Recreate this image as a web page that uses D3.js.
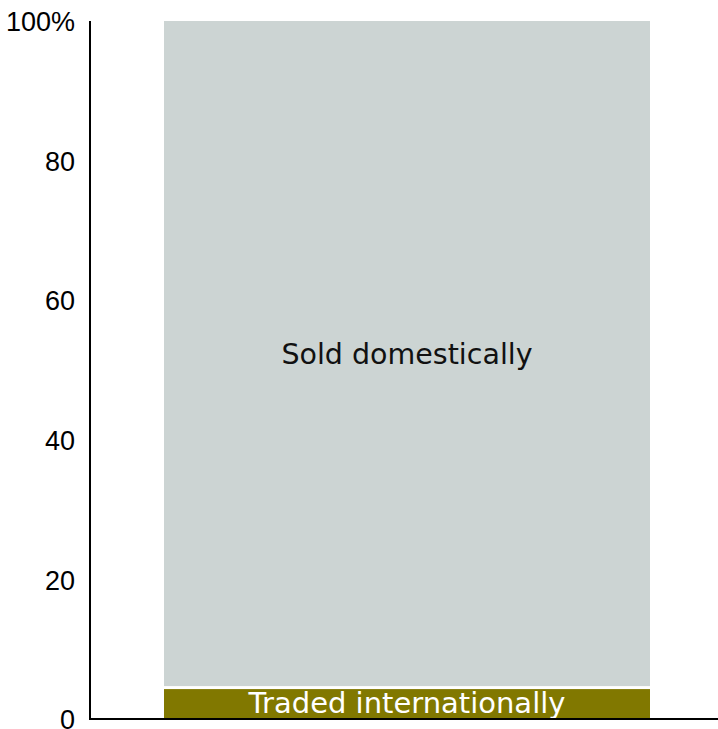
<!DOCTYPE html>
<html><head><meta charset="utf-8">
<script src="https://cdn.jsdelivr.net/npm/d3@7"></script>
<style>body{margin:0;background:#fff}</style>
</head><body><svg id="c" width="718" height="729"></svg>
<script>
const categories = ["Traded internationally", "Sold domestically"];
const values = [4.5, 95.5];
const colors = ["#817800", "#ccd4d3"];
const textColors = ["#ffffff", "#111111"];
const labelSizes = [29, 28.5];
const tickValues = [0, 20, 40, 60, 80, 100];
const tickLabels = ["0", "20", "40", "60", "80", "100%"];

const svg = d3.select("#c");
const x0 = 90, x1 = 718, yTop = 21, yBot = 719;
const y = d3.scaleLinear().domain([0, 100]).range([yBot, yTop]);
const x = d3.scaleBand().domain(["all"]).range([164, 650]);

let cum = 0;
const stack = values.map((v, i) => { const s = {cat: categories[i], y0: cum, y1: cum + v, i}; cum += v; return s; });

const g = svg.append("g");
g.selectAll("rect.bar").data(stack).enter().append("rect")
  .attr("x", x("all")).attr("width", x.bandwidth())
  .attr("y", d => y(d.y1) + (d.y1 < 100 ? 1.5 : 0))
  .attr("height", d => y(d.y0) - y(d.y1) - (d.y1 < 100 ? 1.5 : 0) - (d.y0 > 0 ? 1.5 : 0))
  .attr("fill", d => colors[d.i]);

g.selectAll("text.lab").data(stack).enter().append("text")
  .attr("x", x("all") + x.bandwidth() / 2)
  .attr("y", d => y((d.y0 + d.y1) / 2))
  .attr("dy", "0.35em")
  .attr("text-anchor", "middle")
  .attr("font-family", "DejaVu Sans").attr("font-size", d => labelSizes[d.i])
  .attr("fill", d => textColors[d.i]).text(d => d.cat);

// axes
const yAxis = d3.axisLeft(y).tickValues(tickValues).tickSize(0).tickPadding(15)
  .tickFormat((d, i) => tickLabels[i]);
const ga = svg.append("g").attr("transform", `translate(${x0},0)`).call(yAxis);
ga.select(".domain").remove();
ga.selectAll("text").attr("font-family", "Liberation Sans").attr("font-size", 27)
  .attr("fill", "#000").attr("dy", "0.36em");

svg.append("line").attr("x1", x0).attr("x2", x0).attr("y1", yTop).attr("y2", yBot)
  .attr("stroke", "#000").attr("stroke-width", 2);
svg.append("line").attr("x1", x0 - 1).attr("x2", x1).attr("y1", yBot).attr("y2", yBot)
  .attr("stroke", "#000").attr("stroke-width", 2);
</script></body></html>
